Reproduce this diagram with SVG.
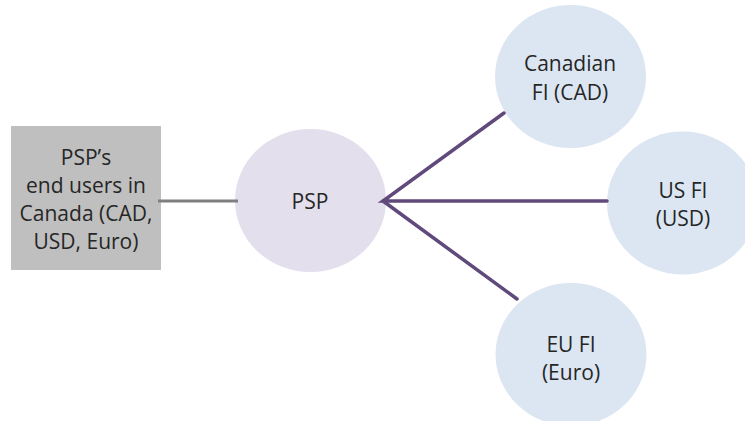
<svg xmlns="http://www.w3.org/2000/svg" width="745" height="421" viewBox="0 0 745 421">
<style>
text{font-family:"Open Sans","Noto Sans","Liberation Sans",sans-serif;font-size:21px;fill:#262626;text-anchor:middle}
.fi{fill:#DCE6F2}
.pl{stroke:#604A7B;stroke-width:3.5;fill:none;stroke-linecap:round}
</style>
<rect width="745" height="421" fill="#ffffff"/>
<g id="endusers">
<rect x="11" y="126" width="150" height="144" fill="#BFBFBF"/>
<text x="86" y="165">PSP’s</text>
<text x="86" y="193">end users in</text>
<text x="86" y="221">Canada (CAD,</text>
<text x="86" y="249">USD, Euro)</text>
</g>
<g id="psp">
<ellipse cx="310.5" cy="200.5" rx="75.5" ry="71.5" fill="#E4DFEC"/>
<text x="310" y="209" font-size="23">PSP</text>
</g>
<g id="canadian">
<ellipse class="fi" cx="570.5" cy="76.5" rx="75.5" ry="71.5"/>
<text x="570" y="71">Canadian</text>
<text x="570" y="100">FI (CAD)</text>
</g>
<g id="us">
<ellipse class="fi" cx="682.5" cy="203" rx="75.5" ry="71.5"/>
<text x="683" y="198">US FI</text>
<text x="683" y="226">(USD)</text>
</g>
<g id="eu">
<ellipse class="fi" cx="571" cy="354.5" rx="75.5" ry="71.5"/>
<text x="571" y="352">EU FI</text>
<text x="571" y="380">(Euro)</text>
</g>
<g id="connectors">
<line x1="158" y1="201" x2="238" y2="201" stroke="#7F7F7F" stroke-width="3"/>
<polyline class="pl" points="504,113 383,201 607,201"/>
<polyline class="pl" points="383,201 517,299"/>
</g>
</svg>
